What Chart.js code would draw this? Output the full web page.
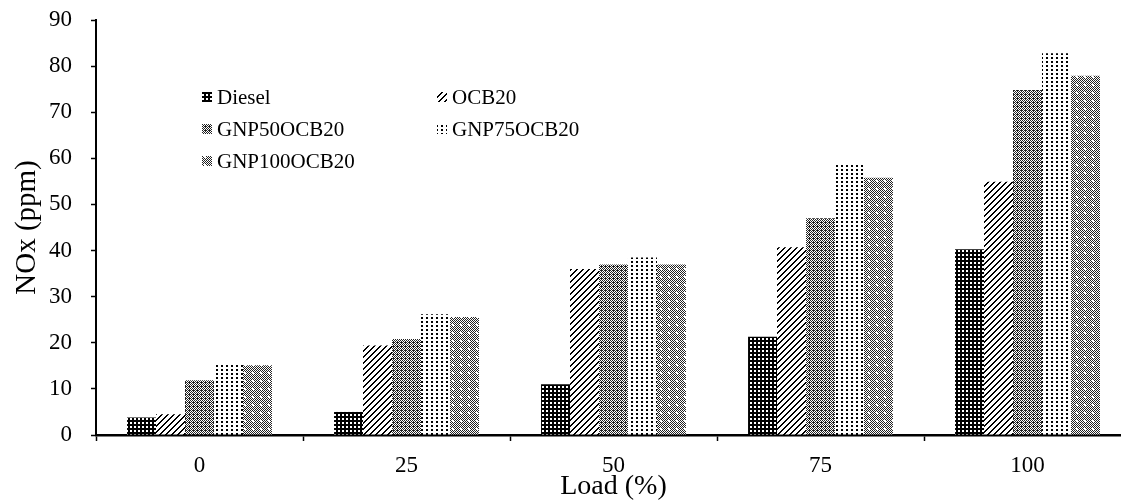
<!DOCTYPE html>
<html>
<head>
<meta charset="utf-8">
<title>NOx vs Load</title>
<script src="https://cdn.jsdelivr.net/npm/chart.js@4/dist/chart.umd.min.js"></script>
<style>
  html, body { margin: 0; padding: 0; background: #fff; overflow: hidden; }
  #chart { display: block; }
</style>
</head>
<body>
<canvas id="chart" width="1140" height="501"></canvas>
<script>
const loads = ['0', '25', '50', '75', '100']
const fuels = ['Diesel', 'OCB20', 'GNP50OCB20', 'GNP75OCB20', 'GNP100OCB20']

const diesel = [3.8, 5.0, 11.0, 21.3, 40.3]
const ocb20 = [4.5, 19.4, 36.0, 40.7, 54.9]
const gnp50 = [11.9, 20.8, 37.0, 47.0, 74.8]
const gnp75 = [15.5, 26.2, 38.5, 58.6, 82.8]
const gnp100 = [15.1, 25.6, 37.0, 55.8, 77.9]

const yTicks = [0, 10, 20, 30, 40, 50, 60, 70, 80, 90]

const serif = '"Liberation Serif", "Times New Roman", serif'

// small tiles used as bar fills, drawn pixel by pixel
const makePattern = (w, h, paint) => {
  const c = document.createElement('canvas')
  c.width = w
  c.height = h
  const g = c.getContext('2d')
  g.fillStyle = '#fff'
  g.fillRect(0, 0, w, h)
  g.fillStyle = '#000'
  paint(g)
  return c.getContext('2d').createPattern(c, 'repeat')
}

const ctx = document.getElementById('chart').getContext('2d')

const patterns = [
  // black with white dots
  makePattern(4, 4, g => {
    g.fillRect(0, 0, 4, 4)
    g.fillStyle = '#fff'
    g.fillRect(2, 2, 2, 2)
  }),
  // wide upward diagonals
  makePattern(6, 6, g => {
    for (let i = 0; i < 6; i++) {
      g.fillRect(i, 5 - i, 2, 1)
    }
    g.fillRect(0, 0, 1, 1)
  }),
  // dark checker
  makePattern(4, 4, g => {
    g.fillStyle = '#222'
    for (let y = 0; y < 4; y++) {
      for (let x = 0; x < 4; x++) {
        if ((x + y) % 2 === 0 || (x === 1 && y === 2)) g.fillRect(x, y, 1, 1)
      }
    }
  }),
  // sparse dots
  makePattern(5, 4, g => {
    g.fillRect(1, 1, 2, 2)
  }),
  // checker with white spots
  makePattern(8, 8, g => {
    g.fillStyle = '#222'
    for (let y = 0; y < 8; y++) {
      for (let x = 0; x < 8; x++) {
        if ((x + y) % 2 === 0) g.fillRect(x, y, 1, 1)
      }
    }
    g.fillStyle = '#fff'
    g.fillRect(4, 4, 2, 2)
  })
]

const seriesValues = [diesel, ocb20, gnp50, gnp75, gnp100]

// two-column legend placed inside the plot area
const gridLegend = {
  id: 'gridLegend',
  afterDraw(chart) {
    const { ctx, chartArea } = chart
    ctx.save()
    ctx.font = '21px ' + serif
    ctx.textBaseline = 'middle'
    chart.data.datasets.forEach((ds, i) => {
      const col = i % 2
      const row = Math.floor(i / 2)
      const x = chartArea.left + 106 + col * 235
      const y = chartArea.top + 77 + row * 32
      ctx.fillStyle = ds.backgroundColor
      ctx.fillRect(x, y - 5, 10, 10)
      ctx.fillStyle = '#000'
      ctx.fillText(ds.label, x + 15, y + 1)
    })
    ctx.restore()
  }
}

new Chart(ctx, {
  type: 'bar',
  data: {
    labels: loads,
    datasets: fuels.map((name, i) => ({
      label: name,
      data: seriesValues[i],
      backgroundColor: patterns[i],
      borderWidth: 0,
      categoryPercentage: 0.7,
      barPercentage: 1.0
    }))
  },
  options: {
    responsive: false,
    animation: false,
    layout: { padding: { top: 20, right: 9, left: 0, bottom: 0 } },
    plugins: {
      legend: { display: false },
      tooltip: { enabled: false }
    },
    scales: {
      x: {
        afterFit: scale => { scale.height = 66 },
        border: { color: '#000', width: 2.5 },
        grid: {
          drawOnChartArea: false,
          drawTicks: true,
          tickLength: 6,
          tickColor: '#000',
          tickWidth: 1.5,
          offset: true
        },
        ticks: {
          color: '#000',
          padding: 11,
          font: { family: serif, size: 23 }
        },
        title: {
          display: true,
          text: 'Load (%)',
          color: '#000',
          font: { family: serif, size: 28, lineHeight: 1 },
          padding: { top: 0, bottom: 0 }
        }
      },
      y: {
        min: 0,
        max: 90,
        // fixed width; the tick padding should not push the top of the plot down
        afterFit: scale => {
          scale.width = 96
          scale.paddingTop = 0
          scale.paddingBottom = 0
        },
        afterBuildTicks: scale => {
          scale.ticks = yTicks.map(v => ({ value: v }))
        },
        border: { color: '#000', width: 2 },
        grid: {
          drawOnChartArea: false,
          drawTicks: true,
          tickLength: 5,
          tickColor: '#000',
          tickWidth: 1.5
        },
        ticks: {
          color: '#000',
          padding: 19,
          font: { family: serif, size: 23 }
        },
        title: {
          display: true,
          text: 'NOx (ppm)',
          color: '#000',
          font: { family: serif, size: 29, lineHeight: 1.2 },
          padding: { top: 10, bottom: 0 }
        }
      }
    }
  },
  plugins: [gridLegend]
})
</script>
</body>
</html>
